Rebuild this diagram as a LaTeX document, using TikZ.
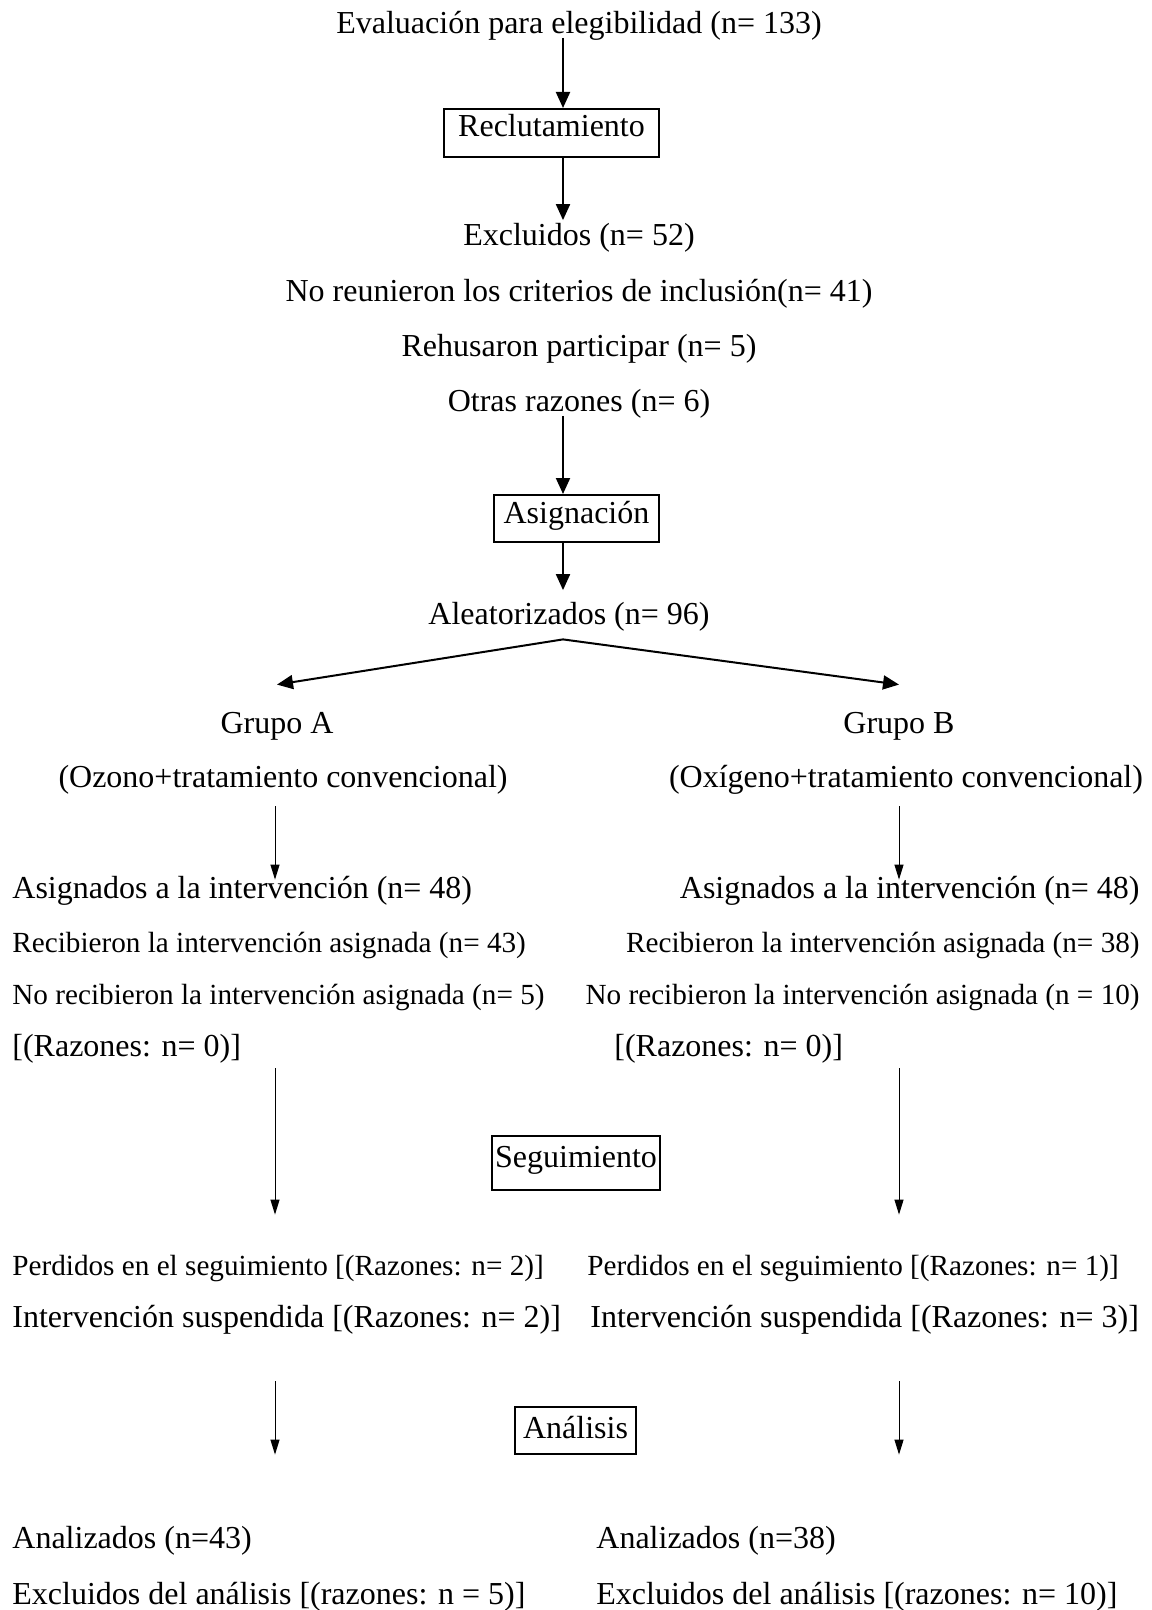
\documentclass[tikz,border=0pt]{standalone}
\usepackage{fontspec}
\setmainfont{Liberation Serif}
\usetikzlibrary{arrows.meta}

\tikzset{
    texto/.style={inner sep=0pt, text height=12.5pt, text depth=2pt, font=\fontsize{16}{19}\selectfont},
    chico/.style={texto, font=\fontsize{14.6}{17}\selectfont},
    etapa/.style={draw, line width=1pt, inner sep=0pt, font=\fontsize{16}{19}\selectfont},
    flecha/.style={line width=1pt, -{Triangle[length=8pt,width=7pt]}},
    flechafina/.style={line width=0.5pt, -{Triangle[length=7.5pt,width=4.5pt]}}
}

\begin{document}
\begin{tikzpicture}[x=0.5pt, y=-0.5pt]

    \useasboundingbox (0,0) rectangle (1151,1610);

    % Ejes verticales de las flechas
    \coordinate (eje) at (563,0);
    \coordinate (ejeA) at (275,0);
    \coordinate (ejeB) at (899,0);

    % Reclutamiento
    \node[texto] (eval) at (579,23) {Evaluación para elegibilidad (n= 133)};
    \node[etapa, minimum width=107.5pt, text height=14pt, text depth=10pt] (recl) at (551.5,133) {Reclutamiento};
    \node[texto] (excl) at (579,235) {Excluidos (n= 52)};
    \node[texto] (crit) at (579,291) {No reunieron los criterios de inclusión(n= 41)};
    \node[texto] (rehus) at (579,346) {Rehusaron participar (n= 5)};
    \node[texto] (otras) at (579,401) {Otras razones (n= 6)};

    % Asignacion
    \node[etapa, minimum width=82.5pt, text height=14pt, text depth=9.5pt] (asig) at (576.5,518.5) {Asignación};
    \node[texto] (alea) at (569,614) {Aleatorizados (n= 96)};
    \coordinate (ramas) at ([yshift=-5.25pt]alea.south -| eje);

    \node[texto] (grA) at (277,723) {Grupo A};
    \node[texto] (ozono) at (283,777) {(Ozono+tratamiento convencional)};
    \node[texto] (grB) at (899,723) {Grupo B};
    \node[texto] (oxig) at (906,777) {(Oxígeno+tratamiento convencional)};

    % Grupo A
    \node[texto, anchor=west] (asigA) at (12,888) {Asignados a la intervención (n= 48)};
    \node[chico, anchor=west] (recibA) at (12,942) {Recibieron la intervención asignada (n= 43)};
    \node[chico, anchor=west] (norecA) at (12,994) {No recibieron la intervención asignada (n= 5)};
    \node[texto, anchor=west] (razA) at (12,1046) {[(Razones: n= 0)]};

    % Grupo B
    \node[texto, anchor=east] (asigB) at (1140,888) {Asignados a la intervención (n= 48)};
    \node[chico, anchor=east] (recibB) at (1140,942) {Recibieron la intervención asignada (n= 38)};
    \node[chico, anchor=east] (norecB) at (1140,994) {No recibieron la intervención asignada (n = 10)};
    \node[texto, anchor=west] (razB) at (614,1046) {[(Razones: n= 0)]};

    % Seguimiento
    \node[etapa, minimum width=84pt, text height=15.5pt, text depth=11.5pt] (seg) at (576,1163) {Seguimiento};
    \node[chico, anchor=west] (perdA) at (12,1265) {Perdidos en el seguimiento [(Razones: n= 2)]};
    \node[texto, anchor=west] (suspA) at (12,1317) {Intervención suspendida [(Razones: n= 2)]};
    \node[chico, anchor=west] (perdB) at (587,1265) {Perdidos en el seguimiento [(Razones: n= 1)]};
    \node[texto, anchor=west] (suspB) at (590,1317) {Intervención suspendida [(Razones: n= 3)]};

    % Analisis
    \node[etapa, minimum width=60.5pt, text height=15.5pt, text depth=8pt] (anal) at (575.5,1430.5) {Análisis};
    \node[texto, anchor=west] (analA) at (12,1538) {Analizados (n=43)};
    \node[texto, anchor=west] (exclA) at (12,1594) {Excluidos del análisis [(razones: n = 5)]};
    \node[texto, anchor=west] (analB) at (596,1538) {Analizados (n=38)};
    \node[texto, anchor=west] (exclB) at (596,1594) {Excluidos del análisis [(razones: n= 10)]};

    % Flechas centrales
    \draw[flecha] (eval.south -| eje) -- (recl.north -| eje);
    \draw[flecha] (recl.south -| eje) -- (excl.north -| eje);
    \draw[flecha] (otras.south -| eje) -- (asig.north -| eje);
    \draw[flecha, shorten >=4.5pt] (asig.south -| eje) -- (alea.north -| eje);
    \draw[flecha] (ramas) -- ([yshift=11.75pt]grA.north);
    \draw[flecha] (ramas) -- ([yshift=11.75pt]grB.north);

    % Flechas de cada grupo
    \draw[flechafina, shorten <=7.25pt, shorten >=-3.25pt] (ozono.south -| ejeA) -- (asigA.north -| ejeA);
    \draw[flechafina, shorten <=7.25pt, shorten >=-3.25pt] (oxig.south -| ejeB) -- (asigB.north -| ejeB);
    \foreach \g in {A,B} {
        \draw[flechafina, shorten <=3.75pt, shorten >=17.75pt] (raz\g.south -| eje\g) -- (perd\g.north -| eje\g);
        \draw[flechafina, shorten <=24.75pt, shorten >=34.25pt] (susp\g.south -| eje\g) -- (anal\g.north -| eje\g);
    }

\end{tikzpicture}
\end{document}
